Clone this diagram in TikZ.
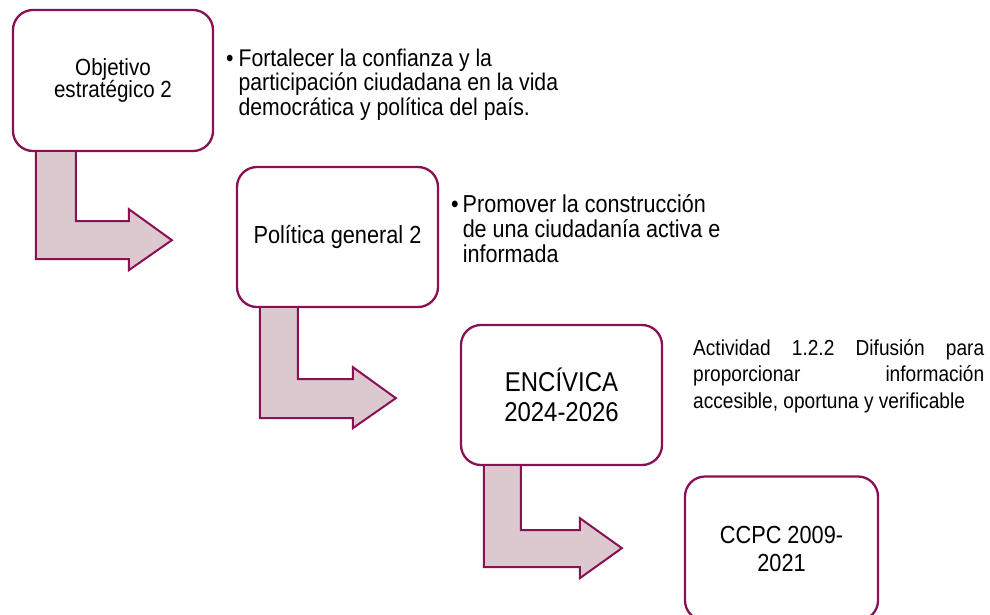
\documentclass[tikz,border=0pt]{standalone}
\usepackage{fontspec}
\setmainfont{Liberation Sans}[FakeStretch=0.88]
\usetikzlibrary{calc}
\definecolor{maroon}{RGB}{138,16,84}
\definecolor{pinkfill}{RGB}{220,200,207}
\begin{document}
\begin{tikzpicture}[x=1pt,y=-1pt,
  box/.style={draw=maroon, line width=2.3pt, fill=white, rounded corners=20pt, align=center, inner sep=0pt},
  bent/.style={fill=pinkfill, draw=maroon, line width=2pt, line join=miter},
  note/.style={inner sep=0pt, align=left, anchor=base west}]
\useasboundingbox (0,0) rectangle (990,614);
\clip (0,0) rectangle (990,614);
% boxes
\node[box, minimum width=200pt, minimum height=141pt, font=\fontsize{23.4}{22.7}\selectfont] (b1) at (113,80.5) {Objetivo\\estratégico 2};
\node[box, minimum width=201pt, minimum height=140pt, font=\fontsize{24.7}{28}\selectfont] (b2) at (337.5,237) {Política general 2};
\node[box, minimum width=201pt, minimum height=140pt, font=\fontsize{27.2}{30}\selectfont] (b3) at (561.5,395) {ENCÍVICA\\2024-2026};
\node[box, minimum width=193pt, minimum height=144pt, font=\fontsize{24.7}{28}\selectfont] (b4) at (781.5,548.5) {CCPC 2009-\\2021};
% bent arrows
\begin{scope}[shift={(b1.south west)}]
\filldraw[bent] (24,0) -- (24,107) -- (117,107) -- (117,118) -- (160,88) -- (117,57) -- (117,69) -- (64,69) -- (64,0);
\end{scope}
\begin{scope}[shift={(b2.south west)}]
\filldraw[bent] (24,0) -- (24,110) -- (117,110) -- (117,120) -- (160,90) -- (117,59) -- (117,71) -- (62,71) -- (62,0);
\end{scope}
\begin{scope}[shift={(b3.south west)}]
\filldraw[bent] (24,0) -- (24,101) -- (120,101) -- (120,112) -- (162,82) -- (120,52) -- (120,64) -- (61,64) -- (61,0);
\end{scope}
% notes
\node[note, font=\fontsize{24.1}{23.5}\selectfont] (t1) at (226,66) {\begin{tabular}[t]{@{}l@{\hspace{5pt}}l@{}}•&Fortalecer la confianza y la\\&participación ciudadana en la vida\\&democrática y política del país.\end{tabular}};
\node[note, font=\fontsize{24.5}{25}\selectfont] (t2) at (451,212) {\begin{tabular}[t]{@{}l@{\hspace{4pt}}l@{}}•&Promover la construcción\\&de una ciudadanía activa e\\&informada\end{tabular}};
\node[note, font=\fontsize{21.7}{26.5}\selectfont] (t3) at (693,355) {\begin{tabular}[t]{@{}l@{}}\makebox[291pt][s]{Actividad 1.2.2 Difusión para}\\\makebox[291pt][s]{proporcionar información}\\accesible, oportuna y verificable\end{tabular}};
\end{tikzpicture}
\end{document}
